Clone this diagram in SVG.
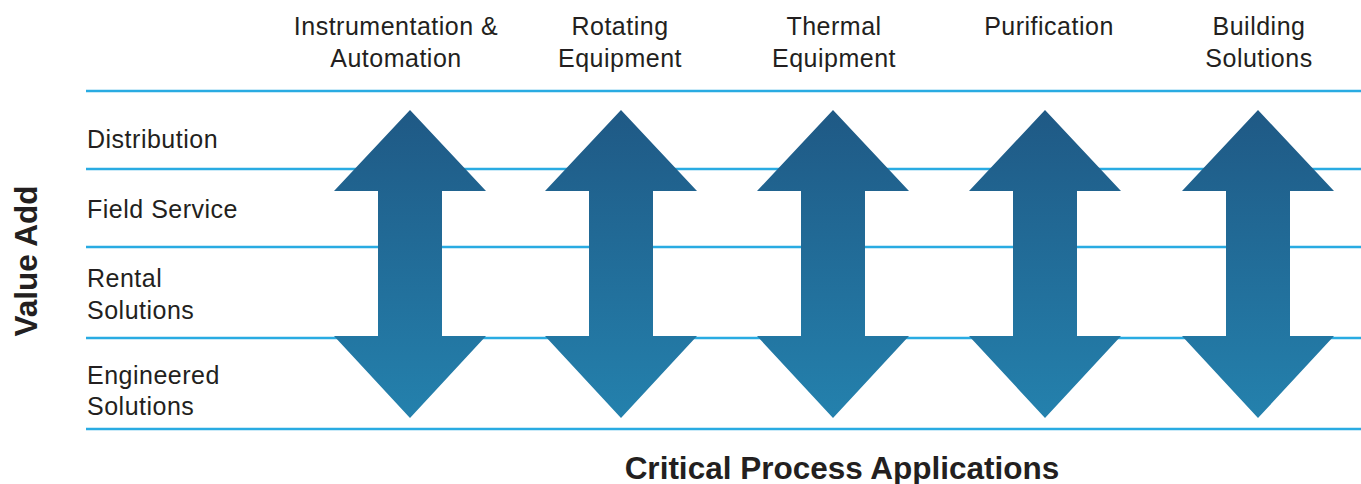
<svg xmlns="http://www.w3.org/2000/svg" width="1361" height="484" viewBox="0 0 1361 484">
<style>
.t{font-family:"Liberation Sans",Arial,sans-serif;font-size:25px;fill:#231f20;letter-spacing:0.5px}
.h{text-anchor:middle}
.b{font-family:"Liberation Sans",Arial,sans-serif;font-size:31.5px;font-weight:bold;fill:#231f20}
.rule{stroke:#29abe2;stroke-width:2.6}
.arr{fill:url(#g)}
</style>
<defs>
<linearGradient id="g" x1="0" y1="110" x2="0" y2="418" gradientUnits="userSpaceOnUse">
<stop offset="0" stop-color="#1f5985"/>
<stop offset="1" stop-color="#2481ad"/>
</linearGradient>
<path id="a" d="M0,110 L76,191 L32,191 L32,336 L76,336 L0,418 L-76,336 L-32,336 L-32,191 L-76,191 Z"/>
</defs>
<rect width="1361" height="484" fill="#fff"/>
<g id="rules">
<line class="rule" x1="86" y1="91" x2="1361" y2="91"/>
<line class="rule" x1="86" y1="169" x2="1361" y2="169"/>
<line class="rule" x1="86" y1="247" x2="1361" y2="247"/>
<line class="rule" x1="86" y1="338" x2="1361" y2="338"/>
<line class="rule" x1="86" y1="429" x2="1361" y2="429"/>
</g>
<g id="connectors">
<use href="#a" class="arr" x="410"/>
<use href="#a" class="arr" x="621"/>
<use href="#a" class="arr" x="833"/>
<use href="#a" class="arr" x="1045"/>
<use href="#a" class="arr" x="1258"/>
</g>
<g id="headers">
<text class="t h" x="396" y="35">Instrumentation &amp;</text>
<text class="t h" x="396" y="67">Automation</text>
<text class="t h" x="620" y="35">Rotating</text>
<text class="t h" x="620" y="67">Equipment</text>
<text class="t h" x="834" y="35">Thermal</text>
<text class="t h" x="834" y="67">Equipment</text>
<text class="t h" x="1049" y="35">Purification</text>
<text class="t h" x="1259" y="35">Building</text>
<text class="t h" x="1259" y="67">Solutions</text>
</g>
<g id="rows">
<text class="t" x="87" y="148">Distribution</text>
<text class="t" x="87" y="218">Field Service</text>
<text class="t" x="87" y="287">Rental</text>
<text class="t" x="87" y="319">Solutions</text>
<text class="t" x="87" y="384">Engineered</text>
<text class="t" x="87" y="415">Solutions</text>
</g>
<g id="axes">
<text class="b" text-anchor="middle" transform="translate(37,261) rotate(-90)">Value Add</text>
<text class="b" text-anchor="middle" x="842" y="479">Critical Process Applications</text>
</g>
</svg>
